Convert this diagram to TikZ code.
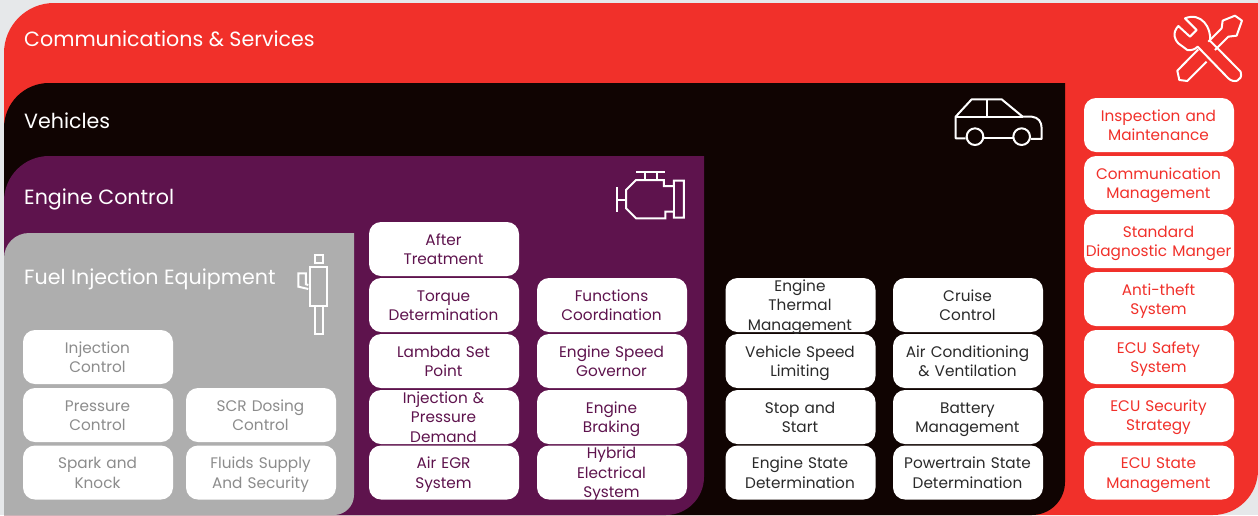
\documentclass[tikz,border=0pt]{standalone}
\usepackage{fontspec}
\setmainfont{Poppins}
\definecolor{bgg}{HTML}{E6E8EA}
\definecolor{cred}{HTML}{F1302A}
\definecolor{cblk}{HTML}{100402}
\definecolor{cpur}{HTML}{5E134D}
\definecolor{cgry}{HTML}{AEAEAE}
\definecolor{tgry}{HTML}{8C8C8C}
\definecolor{tblk}{HTML}{2A2A2A}
\tikzset{
  itembox/.style={draw=none,fill=white,rounded corners=12pt,minimum width=150pt,minimum height=54pt,inner sep=0pt},
  itemlab/.style={inner sep=0pt,text width=150pt,align=center,font=\fontsize{15.3}{19.4}\selectfont,execute at begin node=\strut,execute at end node=\strut},
  gitem/.style={text=tgry},
  pitem/.style={text=cpur},
  kitem/.style={text=tblk},
  ritem/.style={text=cred},
  head/.style={anchor=base west,text=white,inner sep=0pt,font=\fontsize{20.6}{25}\selectfont},
  icon/.style={draw=white,line width=2pt,line join=miter}
}
\newcommand\itemnode[4]{%
  \node[itembox] (#2) at (#3) {};
  \node[itemlab,#1] (#2t) at ([xshift=-.5pt,yshift=-2pt]#2.center) {#4};}
\begin{document}
\begin{tikzpicture}[x=1pt,y=-1pt]
\useasboundingbox (0,0) rectangle (1258,515);
\fill[bgg] (0,0) rectangle (1258,515);
\fill[cred] (4,515) -- (4,53) arc[start angle=180,end angle=270,radius=50] -- (1258,3) -- (1258,470) arc[start angle=0,end angle=90,radius=45] -- cycle;
\fill[cblk] (4,515) -- (4,128) arc[start angle=180,end angle=270,radius=45] -- (1065,83) -- (1065,482) arc[start angle=0,end angle=90,radius=33] -- cycle;
\fill[cpur] (4,515) -- (4,201) arc[start angle=180,end angle=270,radius=45] -- (704,156) -- (704,477) arc[start angle=0,end angle=90,radius=38] -- cycle;
\fill[cgry] (4,515) -- (4,258) arc[start angle=180,end angle=270,radius=25] -- (354,233) -- (354,495) arc[start angle=0,end angle=90,radius=20] -- cycle;
\node[head] (h1) at (24,46) {Communications \& Services};
\node[head] (h2) at (24,128) {Vehicles};
\node[head] (h3) at (24,204) {Engine Control};
\node[head] (h4) at (24,284) {Fuel Injection Equipment};
% grey
\itemnode{gitem}{a1}{98,357}{Injection\\Control}
\itemnode{gitem}{a2}{98,415}{Pressure\\Control}
\itemnode{gitem}{a3}{98,472.5}{Spark and\\Knock}
\itemnode{gitem}{b2}{261,415}{SCR Dosing\\Control}
\itemnode{gitem}{b3}{261,472.5}{Fluids Supply\\And Security}
% purple
\itemnode{pitem}{c1}{444,249}{After\\Treatment}
\itemnode{pitem}{c2}{444,305}{Torque\\Determination}
\itemnode{pitem}{c3}{444,361}{Lambda Set\\Point}
\itemnode{pitem}{c4}{444,417}{Injection \&\\Pressure\\Demand}
\itemnode{pitem}{c5}{444,472.5}{Air EGR\\System}
\itemnode{pitem}{d2}{612,305}{Functions\\Coordination}
\itemnode{pitem}{d3}{612,361}{Engine Speed\\Governor}
\itemnode{pitem}{d4}{612,417}{Engine\\Braking}
\itemnode{pitem}{d5}{612,472.5}{Hybrid\\Electrical\\System}
% black
\itemnode{kitem}{e2}{800.5,305}{Engine\\Thermal\\Management}
\itemnode{kitem}{e3}{800.5,361}{Vehicle Speed\\Limiting}
\itemnode{kitem}{e4}{800.5,417}{Stop and\\Start}
\itemnode{kitem}{e5}{800.5,472.5}{Engine State\\Determination}
\itemnode{kitem}{f2}{968,305}{Cruise\\Control}
\itemnode{kitem}{f3}{968,361}{Air Conditioning\\\& Ventilation}
\itemnode{kitem}{f4}{968,417}{Battery\\Management}
\itemnode{kitem}{f5}{968,472.5}{Powertrain State\\Determination}
% red
\itemnode{ritem}{g1}{1159,125}{Inspection and\\Maintenance}
\itemnode{ritem}{g2}{1159,183}{Communication\\Management}
\itemnode{ritem}{g3}{1159,241}{Standard\\Diagnostic Manger}
\itemnode{ritem}{g4}{1159,299}{Anti-theft\\System}
\itemnode{ritem}{g5}{1159,357}{ECU Safety\\System}
\itemnode{ritem}{g6}{1159,415}{ECU Security\\Strategy}
\itemnode{ritem}{g7}{1159,472.5}{ECU State\\Management}
% tools and car
\begin{scope}[shift={(900,0)},x=.3333pt,y=-.3333pt]
\draw[icon,line join=round] (895,148) -- (832,212) -- (838,240) -- (862,243) -- (920,185);
\draw[icon,line join=round] (925,125) -- (965,85) -- (968,62) -- (1005,47) -- (1026,62) -- (1010,107) -- (985,110) -- (945,150);
\draw[icon,line join=round] (893,140) -- (985,235) .. controls (1000,250) and (1030,245) .. (1022,215) -- (930,122) .. controls (935,85) and (905,35) .. (855,55) -- (890,90) -- (870,110) -- (835,78) .. controls (815,100) and (825,120) .. (835,130) -- (862,150) .. controls (875,152) and (885,148) .. (893,140) -- cycle;
\draw[icon,line join=round] (197,415) -- (167,415) -- (167,350) -- (215,298) -- (305,298) -- (368,350) -- (395,350) .. controls (415,352) and (425,365) .. (425,385) -- (425,417) -- (392,417);
\draw[icon] (167,350) -- (368,350) (262,298) -- (262,350) (251,415) -- (339,415);
\draw[icon] (225,410) circle[radius=25] (365,410) circle[radius=25];
\end{scope}
% engine
\begin{scope}[shift={(580,150)},x=.3333pt,y=-.3333pt]
\draw[icon] (168,66) -- (256,66) (195,66) -- (195,90) (230,66) -- (230,90) (110,112) -- (110,185) (110,150) -- (138,150);
\draw[icon] (168,90) -- (252,90) -- (252,108) -- (282,108) -- (282,92) -- (312,92) -- (312,203) -- (282,203) -- (282,185) -- (256,185) -- (256,205) -- (168,205) -- (138,175) -- (138,120) -- cycle;
\draw[icon] (282,108) -- (282,185);
\end{scope}
% injector
\begin{scope}[shift={(0,225)},x=.3333pt,y=-.3333pt]
\draw[icon] (945,90) rectangle (970,115);
\draw[icon] (930,125) rectangle (982,243);
\draw[icon] (945,243) rectangle (968,328);
\draw[icon] (925,192) -- (895,185) -- (895,145) -- (918,145) -- (918,178) -- (925,180);
\end{scope}
\end{tikzpicture}
\end{document}
